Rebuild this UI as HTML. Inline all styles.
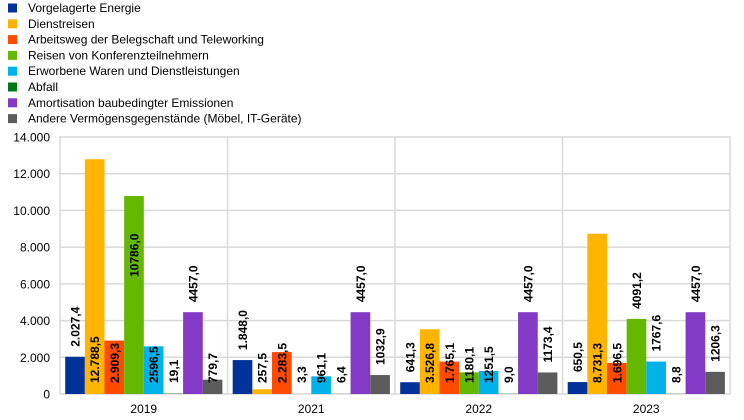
<!DOCTYPE html>
<html><head><meta charset="utf-8"><style>
body{margin:0;background:#fff;}
svg{display:block;font-family:"Liberation Sans",Arial,sans-serif;}
</style></head><body>
<svg id="c" width="744" height="420" xmlns="http://www.w3.org/2000/svg"></svg>
<script>
const s=document.getElementById('c');
let h='';
const cols=['#003299','#FFB400','#FF4B00','#65B800','#00B1EA','#007816','#8139C6','#5C5C5C'];
const names=['Vorgelagerte Energie','Dienstreisen','Arbeitsweg der Belegschaft und Teleworking','Reisen von Konferenzteilnehmern','Erworbene Waren und Dienstleistungen','Abfall','Amortisation baubedingter Emissionen','Andere Vermögensgegenstände (Möbel, IT-Geräte)'];
names.forEach((n,i)=>{const y=8+i*15.8;
h+=`<rect x="8" y="${y-4.5}" width="9" height="9" fill="${cols[i]}"/><text x="28" y="${y+4}" font-size="12" fill="#000">${n}</text>`;});
const y0=394,k=257/14000;
for(let v=0;v<=14000;v+=2000){const y=y0-v*k;
h+=`<line x1="60" x2="730" y1="${y}" y2="${y}" stroke="#d9d9d9" stroke-width="1.5"/>`;
h+=`<text x="50" y="${y+4.5}" font-size="12" text-anchor="end">${v==0?'0':(v/1000).toFixed(3)}</text>`;}
for(let i=0;i<5;i++){const x=60+167.5*i;h+=`<line x1="${x}" x2="${x}" y1="136" y2="394" stroke="#d9d9d9" stroke-width="1.5"/>`;}
const data=[
[[2027.4,'2.027,4','a'],[12788.5,'12.788,5','b'],[2909.3,'2.909,3','b'],[10786,'10786,0','s'],[2596.5,'2596,5','b'],[19.1,'19,1','b'],[4457,'4457,0','a'],[779.7,'779,7','b']],
[[1848,'1.848,0','a'],[257.5,'257,5','b'],[2283.5,'2.283,5','b'],[3.3,'3,3','b'],[961.1,'961,1','b'],[6.4,'6,4','b'],[4457,'4457,0','a'],[1032.9,'1032,9','a']],
[[641.3,'641,3','a'],[3526.8,'3.526,8','b'],[1765.1,'1.765,1','b'],[1180.1,'1180,1','b'],[1251.5,'1251,5','b'],[9.0,'9,0','b'],[4457,'4457,0','a'],[1173.4,'1173,4','a']],
[[650.5,'650,5','a'],[8731.3,'8.731,3','b'],[1696.5,'1.696,5','b'],[4091.2,'4091,2','a'],[1767.6,'1767,6','a'],[8.8,'8,8','b'],[4457,'4457,0','a'],[1206.3,'1206,3','a']]];
const yrs=['2019','2021','2022','2023'];
data.forEach((g,gi)=>{const gx=60+167.5*gi;
h+=`<text x="${gx+83.75}" y="413" font-size="12" text-anchor="middle">${yrs[gi]}</text>`;
g.forEach((d,bi)=>{const x=gx+5.2+bi*19.65,top=y0-d[0]*k;
h+=`<rect x="${x}" y="${top}" width="19.65" height="${y0-top}" fill="${cols[bi]}"/>`;
const by=d[2]=='a'?top-10:d[2]=='s'?277:383;const cx=x+9.8;
h+=`<text transform="translate(${cx+4.5},${by}) rotate(-90)" font-size="12" font-weight="bold">${d[1]}</text>`;});});
s.innerHTML=h;
</script>
</body></html>
